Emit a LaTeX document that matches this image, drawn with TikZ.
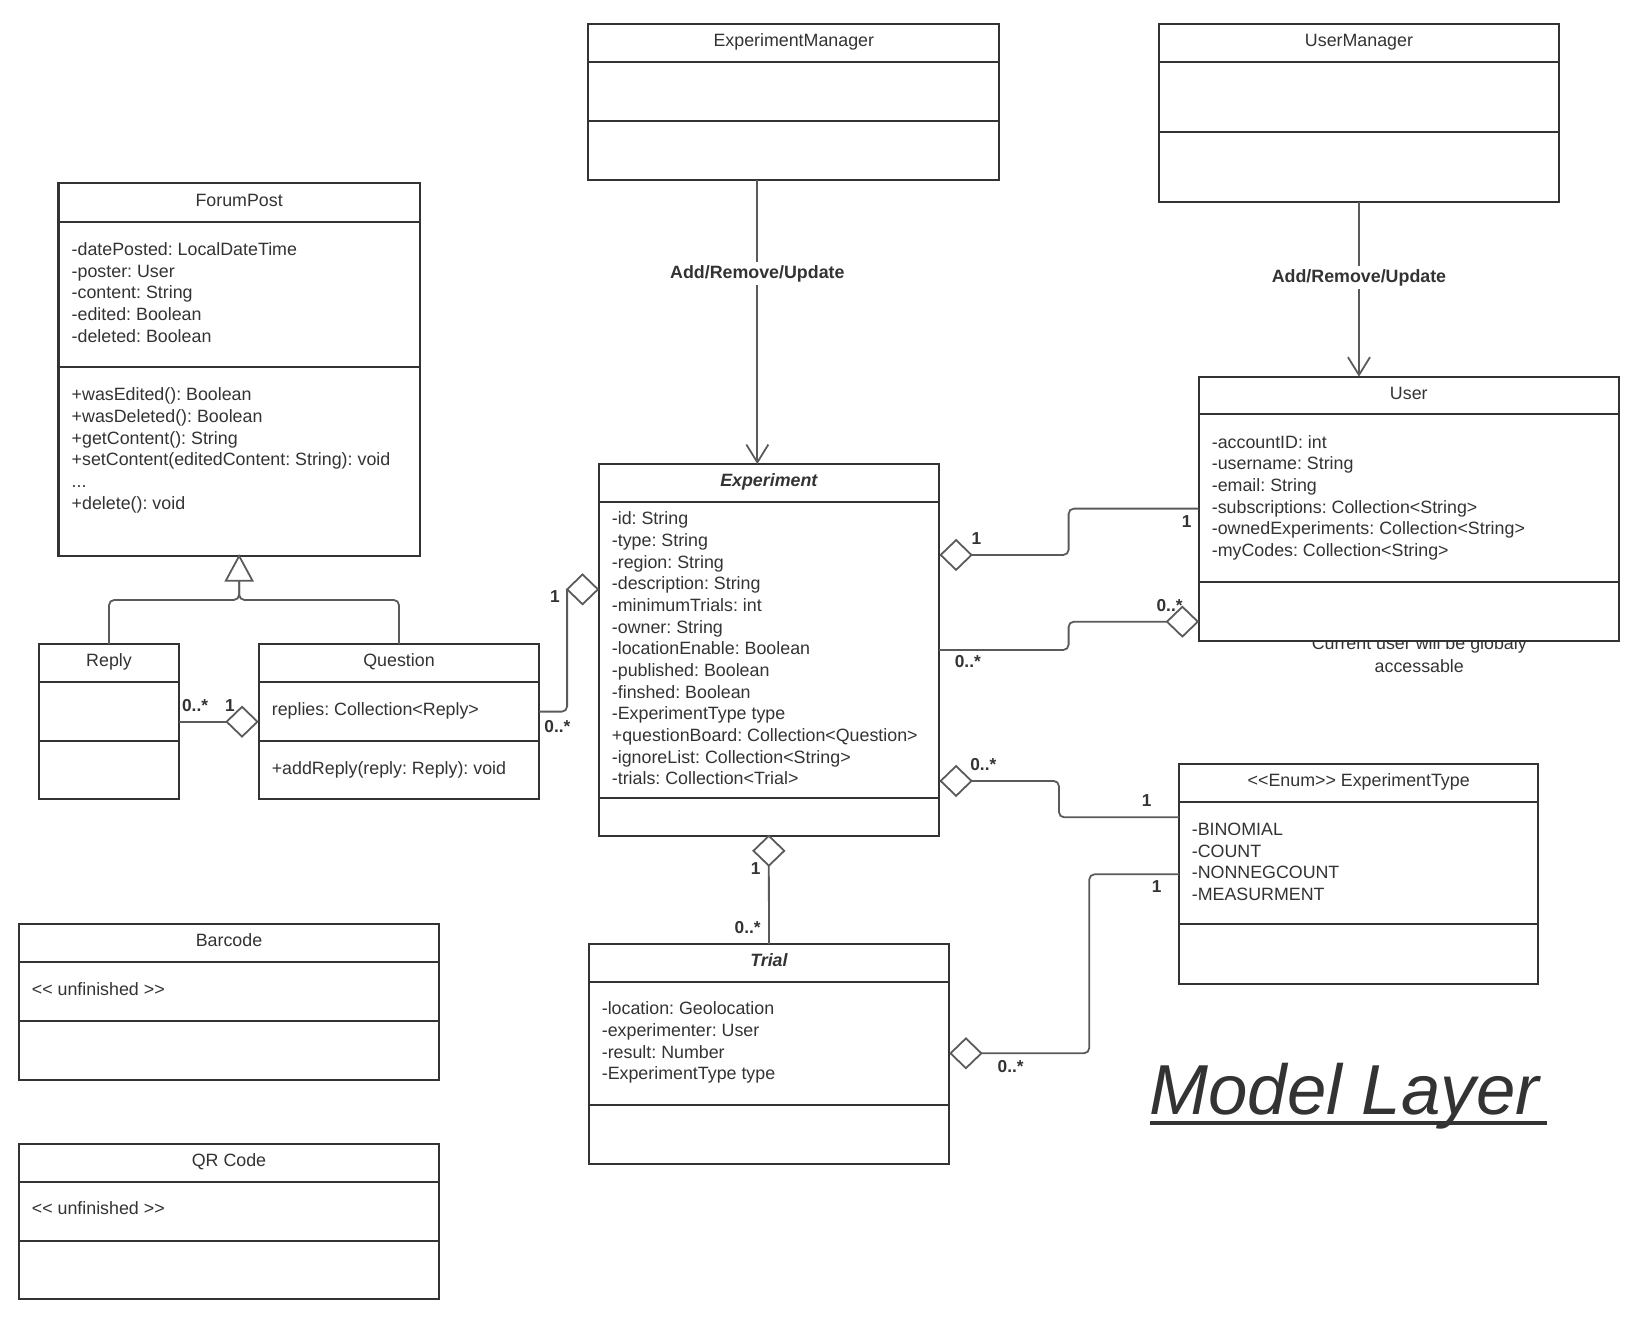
\documentclass[tikz,border=0pt]{standalone}
\usepackage{fontspec}
\newfontfamily\lsf{Liberation Sans}
\usetikzlibrary{arrows.meta,shapes.geometric,calc}
\definecolor{boxc}{HTML}{333333}
\definecolor{linec}{HTML}{5A5A5A}
\definecolor{txtc}{HTML}{333333}
\frenchspacing
\tikzset{
  box/.style={rectangle, draw=boxc, line width=2pt, fill=white, inner sep=0pt, outer sep=0pt},
  divider/.style={draw=boxc, line width=2pt},
  ttl/.style={font=\lsf\fontsize{17}{20.66}\selectfont, text=txtc, anchor=base, inner sep=0pt},
  attr/.style={font=\lsf\fontsize{17}{20.66}\selectfont, text=txtc, anchor=base west, inner sep=0pt},
  conn/.style={draw=linec, line width=1.7pt},
  elbow/.style={conn, rounded corners=5pt},
  dia/.style={diamond, draw=linec, line width=1.7pt, fill=white, minimum width=29.4pt, minimum height=28.4pt, inner sep=0pt, outer sep=0pt},
  mult/.style={font=\lsf\bfseries\fontsize{16.5}{19}\selectfont, text=txtc, anchor=base, inner sep=0pt},
  edgelbl/.style={font=\lsf\bfseries\fontsize{17}{20}\selectfont, text=txtc, anchor=base, fill=white, inner xsep=1pt, inner ysep=3pt},
  openarrow/.style={-{Straight Barb[length=17pt,width=21pt]}}
}
\newcommand\umlbox[8]{%
  \node[box, minimum width={(#4)-(#2)}, minimum height={(#5)-(#3)}] (#1) at ({((#2)+(#4))/2},{((#3)+(#5))/2}) {};
  \draw[divider] (#2,#6) -- (#4,#6) (#2,#7) -- (#4,#7);
  \node[ttl] (#1-title) at ({((#2)+(#4))/2},{((#3)+(#6))/2+3.6}) {#8};
}
\newcommand\attrlines[4]{%
  \foreach \itm [count=\i from 0] in {#4} {\node[attr] (#1-\i) at (#2,{#3+\i*20.66}) {\itm};}
}
\begin{document}
\frenchspacing
\begin{tikzpicture}[x=1pt,y=-1pt]
\useasboundingbox (0,0) rectangle (1567.7,1255.8);

% note partly hidden behind the User box
\node[ttl] (note1) at (1353.4,619.6) {Current user will be globaly};
\node[ttl] (note2) at (1353.4,640.9) {accessable};

% classes
\umlbox{em}{561}{22.9}{952.9}{171.6}{59.1}{115.1}{ExperimentManager}
\umlbox{um}{1105.2}{22.9}{1486.6}{192.3}{59.1}{125.9}{UserManager}
\umlbox{fp}{55.8}{174.8}{400.3}{530.2}{211.4}{349.6}{ForumPost}
\umlbox{exp}{570.9}{442.5}{895.4}{796.9}{478.7}{760.6}{\bfseries\itshape Experiment}
\umlbox{user}{1143}{359.2}{1543.8}{611}{394.8}{554.7}{User}
\umlbox{reply}{37.2}{614.1}{170.7}{762.2}{650}{706.6}{Reply}
\umlbox{question}{247}{614.1}{514}{762.2}{650}{706.6}{Question}
\umlbox{et}{1124.3}{728.5}{1467}{938.6}{764.7}{881.4}{<<Enum>> ExperimentType}
\umlbox{trial}{561.6}{900.2}{904.9}{1110.3}{936.4}{1053.7}{\bfseries\itshape Trial}
\umlbox{bc}{18.1}{881.1}{418.6}{1029.8}{917.3}{973.3}{Barcode}
\umlbox{qr}{18.1}{1090.9}{418.6}{1239}{1127.1}{1183}{QR Code}

% attributes / operations
\attrlines{fpa}{68.2}{243.5}{-datePosted: LocalDateTime,-poster: User,-content: String,-edited: Boolean,-deleted: Boolean}
\node[attr] (fpm0) at (68.2,382.1) {+wasEdited(): Boolean};
\node[attr] (fpm1) at (68.2,402.8) {+wasDeleted(): Boolean};
\node[attr] (fpm2) at (68.2,423.4) {+getContent(): String};
\node[attr] (fpm3) at (68.2,444.1) {+setContent(editedContent: String): void};
\node[attr] (fpm4) at (68.2,464.7) {...};
\node[attr] (fpm5) at (68.2,485.4) {+delete(): void};
\attrlines{expa}{583.3}{500.4}{-id: String,-type: String,-region: String,-description: String,-minimumTrials: int,-owner: String,-locationEnable: Boolean,-published: Boolean,-finshed: Boolean,-ExperimentType type,+questionBoard: Collection<Question>,-ignoreList: Collection<String>,-trials: Collection<Trial>}
\attrlines{ua}{1155.4}{427.3}{-accountID: int,-username: String,-email: String,-subscriptions: Collection<String>,-ownedExperiments: Collection<String>,-myCodes: Collection<String>}
\attrlines{eta}{1136.3}{796.6}{-BINOMIAL,-COUNT,-NONNEGCOUNT,-MEASURMENT}
\attrlines{ta}{573.7}{967.6}{-location: Geolocation,-experimenter: User,-result: Number,-ExperimentType type}
\node[attr] (qa) at (259,682.5) {replies: Collection<Reply>};
\node[attr] (qm) at (259,738.8) {+addReply(reply: Reply): void};
\node[attr] (bca) at (30.2,949.5) {<< unfinished >>};
\node[attr] (qra) at (30.2,1158.3) {<< unfinished >>};

% generalization
\coordinate (tribase) at ($(fp.south)+(0,23.5)$);
\coordinate (genj) at ($(fp.south)+(0,41.9)$);
\draw[elbow] (reply.north) |- (genj) -- (tribase);
\draw[elbow] (question.north) |- (genj) -- (tribase);
\draw[conn, fill=white, line join=miter] (fp.south) -- ++(12.7,23.5) -- ++(-25.4,0) -- cycle;

% aggregation diamonds
\node[dia] (drq) at (230.8,688.2) {};
\node[dia] (dqe) at (555.5,562) {};
\node[dia] (deu1) at (911.7,529.2) {};
\node[dia] (deu2) at (1127.5,592.8) {};
\node[dia] (deet) at (911.7,744.7) {};
\node[dia] (dtet) at (921.1,1004.4) {};
\node[dia] (det) at ($(exp.south)+(0,14.4)$) {};

% associations
\draw[conn] (reply.east |- drq.west) -- (drq.west);
\draw[elbow] (dqe.west) |- (question.east |- 0,678.6);
\draw[elbow] (deu1.east) -| (1019,485) -- (user.west |- 0,485);
\draw[elbow] (exp.east |- 0,619.8) -| (1019,592.8) -- (deu2.west);
\draw[elbow] (deet.east) -| (1009.8,779.4) -- (et.west |- 0,779.4);
\draw[elbow] (dtet.east) -| (1038.7,833.7) -- (et.west |- 0,833.7);
\draw[conn] (det.south) -- (trial.north);

% manager arrows
\coordinate (emx) at (722.2,0);
\coordinate (umx) at (1295.9,0);
\draw[conn, openarrow] (emx |- em.south) -- (emx |- exp.north);
\draw[conn, openarrow] (umx |- um.south) -- (umx |- user.north);
\node[edgelbl] (lem) at (722.2,265.1) {Add/Remove/Update};
\node[edgelbl] (lum) at (1295.9,269.3) {Add/Remove/Update};

% multiplicities
\node[mult] (m1) at (186,678.2) {0..*};
\node[mult] (m2) at (219.3,678.2) {1};
\node[mult] (m3) at (529.2,574.9) {1};
\node[mult] (m4) at (531.5,698.2) {0..*};
\node[mult] (m5) at (931,518.9) {1};
\node[mult] (m6) at (1131.6,503.4) {1};
\node[mult] (m7) at (1115.3,582.9) {0..*};
\node[mult] (m8) at (922.9,636.9) {0..*};
\node[mult] (m9) at (937.7,734.4) {0..*};
\node[mult] (m10) at (1093.4,768.8) {1};
\node[mult] (m11) at (1103,851.4) {1};
\node[mult] (m12) at (963.7,1022.4) {0..*};
\node[mult] (m13) at (720.6,833.9) {1};
\node[mult] (m14) at (713,890.2) {0..*};

% title
\node[font=\lsf\itshape\fontsize{67.5}{72}\selectfont, text=txtc, anchor=base west, inner sep=0pt] (ml) at (1096,1063.2) {Model Layer};
\draw[draw=txtc, line width=3.8pt] (1096.6,1070.5) -- (1475.4,1070.5);
\end{tikzpicture}
\end{document}
